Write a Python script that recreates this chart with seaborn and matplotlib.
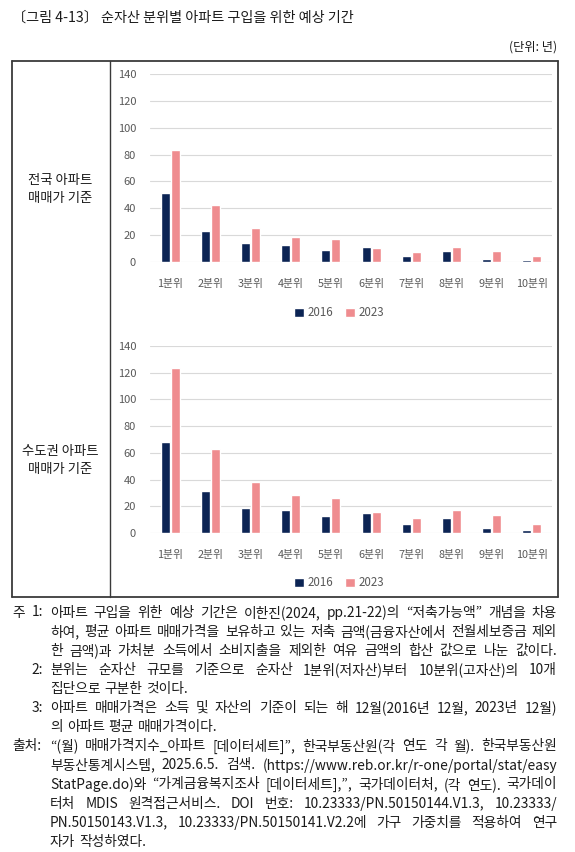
import seaborn as sns
import matplotlib.pyplot as plt
import pandas as pd
from matplotlib.lines import Line2D

# Data (years needed to buy an apartment)
quantiles = ['1분위', '2분위', '3분위', '4분위', '5분위', '6분위', '7분위', '8분위', '9분위', '10분위']
years = ['2016', '2023']
nation_2016 = [51.1, 23.0, 13.8, 12.3, 9.3, 11.0, 4.3, 8.0, 2.5, 1.3]
nation_2023 = [83.1, 42.3, 25.3, 18.5, 17.3, 10.5, 7.5, 11.0, 8.5, 4.3]
capital_2016 = [67.8, 31.3, 18.8, 17.0, 12.8, 15.3, 6.5, 11.3, 3.5, 2.3]
capital_2023 = [123.5, 62.8, 38.5, 28.3, 26.3, 15.8, 11.3, 17.0, 13.3, 6.5]
row_labels = ['전국 아파트\n매매가 기준', '수도권 아파트\n매매가 기준']
yticks = [0, 20, 40, 60, 80, 100, 120, 140]

title = '〔그림 4-13〕 순자산 분위별 아파트 구입을 위한 예상 기간'
unit = '(단위: 년)'
notes = [
    ('주 1:', '아파트 구입을 위한 예상 기간은 이한진(2024, pp.21-22)의 “저축가능액” 개념을 차용', True),
    ('', '하여, 평균 아파트 매매가격을 보유하고 있는 저축 금액(금융자산에서 전월세보증금 제외', True),
    ('', '한 금액)과 가처분 소득에서 소비지출을 제외한 여유 금액의 합산 값으로 나눈 값이다.', True),
    ('2:', '분위는 순자산 규모를 기준으로 순자산 1분위(저자산)부터 10분위(고자산)의 10개', True),
    ('', '집단으로 구분한 것이다.', False),
    ('3:', '아파트 매매가격은 소득 및 자산의 기준이 되는 해 12월(2016년 12월, 2023년 12월)', True),
    ('', '의 아파트 평균 매매가격이다.', False),
    ('출처:', '“(월) 매매가격지수_아파트 [데이터세트]”, 한국부동산원(각 연도 각 월). 한국부동산원', True),
    ('', '부동산통계시스템, 2025.6.5. 검색. (https://www.reb.or.kr/r-one/portal/stat/easy', True),
    ('', 'StatPage.do)와 “가계금융복지조사 [데이터세트],”, 국가데이터처, (각 연도). 국가데이', True),
    ('', '터처 MDIS 원격접근서비스. DOI 번호: 10.23333/PN.50150144.V1.3, 10.23333/', True),
    ('', 'PN.50150143.V1.3, 10.23333/PN.50150141.V2.2에 가구 가중치를 적용하여 연구', True),
    ('', '자가 작성하였다.', False),
]

palette = {'2016': '#002060', '2023': '#FF7C80'}
SANS = ['Noto Sans CJK KR', 'DejaVu Sans']
NOTE_SIZE = 9.9

sns.set_theme(style='white')
plt.rcParams['font.family'] = SANS

W, H = 575, 852
fig = plt.figure(figsize=(W / 100, H / 100), dpi=100)
renderer = fig.canvas.get_renderer()


def fx(x):
    return x / W


def fy(y):
    return 1 - y / H


def make_df(v16, v23):
    rows = []
    for q, a, b in zip(quantiles, v16, v23):
        rows.append({'분위': q, '연도': '2016', '기간': a})
        rows.append({'분위': q, '연도': '2023', '기간': b})
    return pd.DataFrame(rows)


def draw_chart(df, top, bottom, legend_y):
    ax = fig.add_axes([fx(150), fy(bottom), fx(552) - fx(150), fy(top) - fy(bottom)])
    sns.barplot(data=df, x='분위', y='기간', hue='연도', hue_order=years,
                palette=palette, width=0.5, gap=0.1, errorbar=None, ax=ax)
    ax.set_ylim(0, 140)
    ax.set_xlim(-0.5, 9.5)
    ax.set_yticks(yticks)
    ax.set_xlabel('')
    ax.set_ylabel('')
    ax.yaxis.grid(True, color='#D9D9D9', lw=0.8)
    ax.set_axisbelow(True)
    for s in ax.spines.values():
        s.set_visible(False)
    ax.tick_params(axis='y', length=0, pad=10, labelsize=8, labelcolor='#595959')
    ax.tick_params(axis='x', length=0, pad=12, labelsize=7.8, labelcolor='#595959')
    lx = (339 - 150) / (552 - 150)
    ly = (bottom - legend_y) / (bottom - top)
    sns.move_legend(ax, 'center', bbox_to_anchor=(lx, ly), ncol=2, frameon=False,
                    title=None, fontsize=8.3, handlelength=0.85, handleheight=0.85,
                    handletextpad=0.3, columnspacing=1.0)
    for t in ax.get_legend().get_texts():
        t.set_color('#595959')
    return ax


draw_chart(make_df(nation_2016, nation_2023), 74, 262, 313)
draw_chart(make_df(capital_2016, capital_2023), 346, 533, 583)

# table frame around the two charts
box = '#3A3A3A'
for xs, ys, lw in [([12, 558], [61, 61], 1.3), ([12, 558], [597, 597], 1.3),
                   ([12, 12], [61, 597], 1.3), ([558, 558], [61, 597], 1.3),
                   ([110, 110], [61, 597], 1.0)]:
    fig.add_artist(Line2D([fx(x) for x in xs], [fy(y) for y in ys], color=box, lw=lw))

fig.text(fx(60), fy(189), row_labels[0], ha='center', va='center', fontsize=9.6,
         color='#1A1A1A', linespacing=1.45)
fig.text(fx(60), fy(460), row_labels[1], ha='center', va='center', fontsize=9.6,
         color='#1A1A1A', linespacing=1.45)

fig.text(fx(12), fy(18), title, ha='left', va='center', fontsize=10.2, color='#1A1A1A')
fig.text(fx(557), fy(47), unit, ha='right', va='center', fontsize=8.8, color='#1A1A1A')


def note_text(x, y, s, ha='left'):
    return fig.text(fx(x), fy(y), s, ha=ha, va='center_baseline', fontsize=NOTE_SIZE,
                    color='#1A1A1A')


# notes, justified like the printed page
def put_line(text, y, x0, x1, justify):
    words = text.split()
    objs = [note_text(0, y, w) for w in words]
    widths = [o.get_window_extent(renderer).width for o in objs]
    if justify and len(words) > 1:
        gap = (x1 - x0 - sum(widths)) / (len(words) - 1)
    else:
        gap = 4.0
    x = x0
    for o, w in zip(objs, widths):
        o.set_position((fx(x), fy(y)))
        x += w + gap


y = 611
for prefix, text, justify in notes:
    if prefix == '주 1:':
        note_text(12, y, '주')
        note_text(43, y, '1:', ha='right')
    elif prefix == '출처:':
        note_text(12, y, prefix)
    elif prefix:
        note_text(43, y, prefix, ha='right')
    put_line(text, y, 50, 557, justify)
    y += 19.1

fig.savefig('out.png', dpi=100)
